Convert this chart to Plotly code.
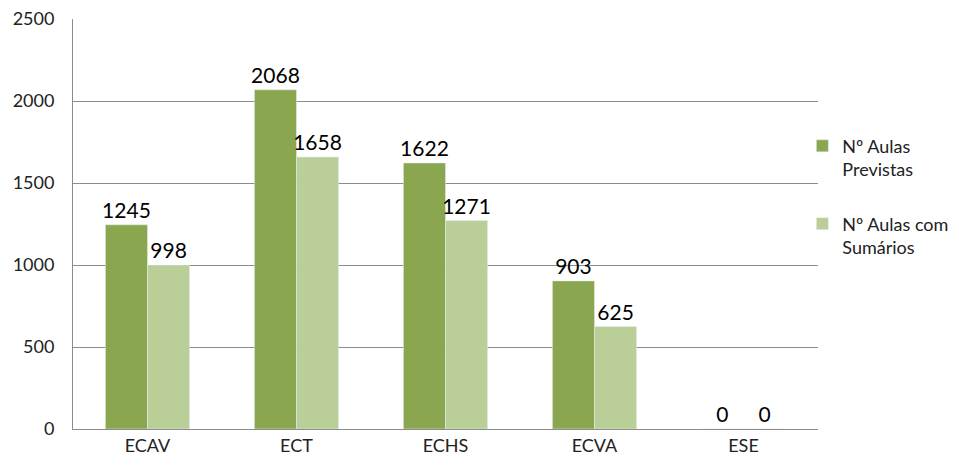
import plotly.graph_objects as go

categorias = ["ECAV", "ECT", "ECHS", "ECVA", "ESE"]
aulas_previstas = [1245, 2068, 1622, 903, 0]
aulas_sumarios = [998, 1658, 1271, 625, 0]
y_ticks = [0, 500, 1000, 1500, 2000, 2500]

fig = go.Figure()
fig.add_trace(go.Bar(
    x=categorias, y=aulas_previstas, name="Nº Aulas<br>Previstas",
    marker=dict(color="#8AA64E"), legendgroup="a",
    text=aulas_previstas, textposition="outside", cliponaxis=False,
    constraintext="none",
    textfont=dict(size=21, color="#000000"),
))
fig.add_trace(go.Bar(
    x=categorias, y=aulas_sumarios, name="Nº Aulas com<br>Sumários",
    marker=dict(color="#BACF98"), legendgroup="b",
    text=aulas_sumarios, textposition="outside", cliponaxis=False,
    constraintext="none",
    textfont=dict(size=21, color="#000000"),
))

fig.update_layout(
    width=959, height=466,
    plot_bgcolor="white", paper_bgcolor="white",
    barmode="group", bargap=0.435, bargroupgap=0,
    margin=dict(l=73, r=141, t=19, b=37, autoexpand=False),
    font=dict(family="Lato, sans-serif", size=18, color="#222222"),
    legend=dict(
        x=0.979, xanchor="left", y=0.735, yanchor="top",
        font=dict(size=18, color="#222222"),
        tracegroupgap=28, itemwidth=30, valign="top",
        bgcolor="rgba(0,0,0,0)",
    ),
    showlegend=True,
)
fig.update_xaxes(
    showline=True, linecolor="#8C8C8C", linewidth=1, automargin=False,
    showgrid=False, ticks="", tickfont=dict(size=18),
)
fig.update_yaxes(
    range=[0, 2500], tickvals=y_ticks, automargin=False,
    showline=True, linecolor="#8C8C8C", linewidth=1,
    showgrid=True, gridcolor="#8C8C8C", gridwidth=1,
    zeroline=False, ticks="", tickfont=dict(size=18),
    ticklabelstandoff=14,
)

fig.write_html("out.html", config={"displayModeBar": False},
               post_script="document.body.style.margin='0';")
